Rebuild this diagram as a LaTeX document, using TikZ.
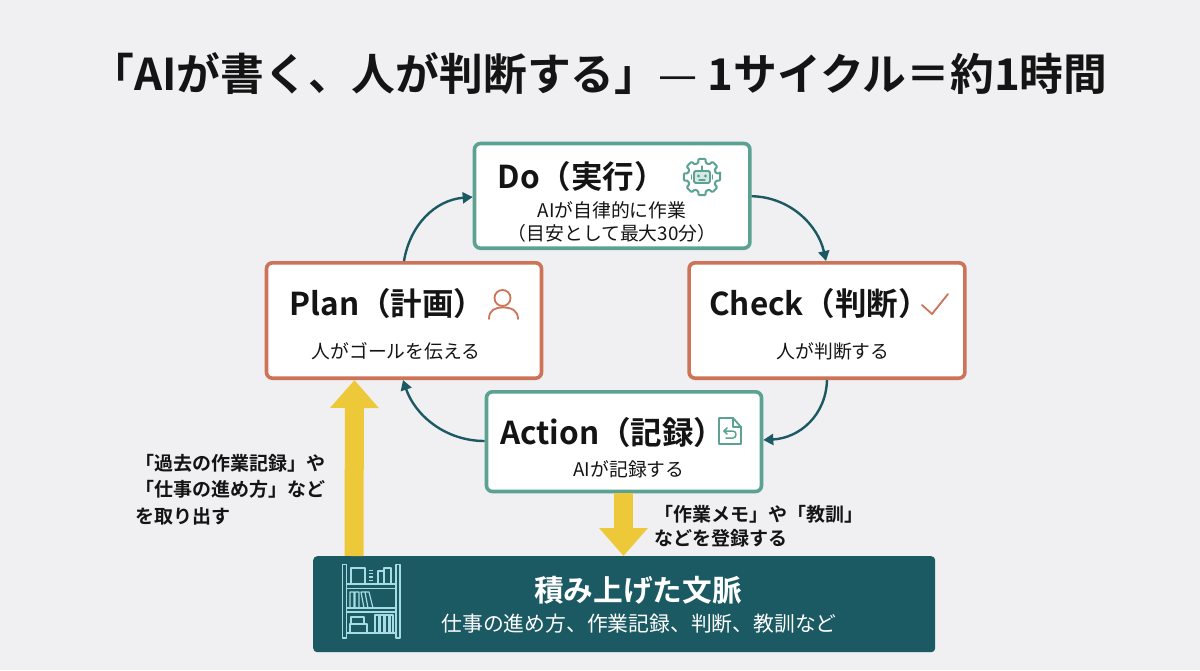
\documentclass[tikz,border=0pt]{standalone}
\usepackage{fontspec}
\setmainfont{Noto Sans CJK JP}[BoldFont={Noto Sans CJK JP Bold}]
\usetikzlibrary{arrows.meta,calc}
\definecolor{bgc}{HTML}{F0EFF2}
\definecolor{tealb}{HTML}{5BA293}
\definecolor{redb}{HTML}{CC7358}
\definecolor{darkt}{HTML}{1B5A63}
\definecolor{yel}{HTML}{EDC93A}
\definecolor{shelf}{HTML}{A8DCE4}
\definecolor{ink}{HTML}{141414}
\tikzset{
  x=1pt,y=-1pt,
  card/.style={draw,line width=3.6pt,fill=white,rounded corners=6pt,anchor=north west,inner sep=0pt},
  tealcard/.style={card,draw=tealb},
  redcard/.style={card,draw=redb},
  head/.style={font=\fontsize{31.5}{34}\selectfont\bfseries,text=ink,inner sep=0pt},
  sub/.style={font=\fontsize{18.8}{23}\selectfont,text=ink,inner sep=0pt,align=center},
  note/.style={font=\fontsize{19}{26.5}\selectfont\bfseries,text=ink,inner sep=0pt,align=left,anchor=north west},
  flow/.style={draw=darkt,line width=2.4pt,-{Triangle[length=10pt,width=11pt]}},
  bigarrow/.style={draw=yel,line width=19pt,-{Triangle[length=28pt,width=47pt]}},
  ticon/.style={draw=tealb,line width=1.8pt,line join=round,line cap=round},
  ricon/.style={draw=redb,line width=1.8pt,line join=round,line cap=round},
  sicon/.style={draw=shelf,line width=1.2pt,line join=round},
}
\begin{document}
\begin{tikzpicture}
\useasboundingbox (0,0) rectangle (1200,670);
\fill[bgc] (0,0) rectangle (1200,670);

\node[font=\fontsize{43.8}{46}\selectfont\bfseries,text=ink,inner sep=0pt] (title) at (599,73.5) {「AIが書く、人が判断する」{\mdseries —} 1サイクル＝約1時間};

% cards
\node[tealcard,minimum width=275.4pt,minimum height=104.7pt] (do) at (472.7,141.7) {};
\node[redcard,minimum width=275pt,minimum height=115.4pt] (plan) at (264.7,261) {};
\node[redcard,minimum width=275.8pt,minimum height=115.4pt] (check) at (687.3,261) {};
\node[tealcard,minimum width=275pt,minimum height=99.7pt] (action) at (484.7,390) {};
\node[draw=none,fill=darkt,rounded corners=4pt,anchor=north west,minimum width=622pt,minimum height=96pt,inner sep=0pt] (store) at (313,556) {};

% card text
\node[head,anchor=west] (dot) at (497.5,177) {Do（実行）};
\node[sub] (dos) at (612,222) {AIが自律的に作業\\（目安として最大30分）};
\node[head,anchor=west] (plant) at (289.5,303.7) {Plan（計画）};
\node[sub] (plans) at (396,351) {人がゴールを伝える};
\node[head,anchor=west] (checkt) at (709,303.7) {Check（判断）};
\node[sub] (checks) at (833,351) {人が判断する};
\node[head,anchor=west] (actiont) at (500,432.7) {Action（記録）};
\node[sub] (actions) at (629,469) {AIが記録する};
\node[font=\fontsize{29.7}{33}\selectfont\bfseries,text=white,inner sep=0pt] (storet) at (638,590) {積み上げた文脈};
\node[font=\fontsize{20.8}{25}\selectfont,text=white,inner sep=0pt] (stores) at (639,624) {仕事の進め方、作業記録、判断、教訓など};

% notes
\node[note] (n1) at (135,454) {「過去の作業記録」や\\「仕事の進め方」など\\を取り出す};
\node[note,font=\fontsize{19}{24}\selectfont\bfseries] (n2) at (654,505.5) {「作業メモ」や「教訓」\\などを登録する};

% cycle connectors
\path (plan.north west) ++(139.3,0) coordinate (pt);
\path (do.north west) ++(0,55.3) coordinate (dl);
\path (do.north east) ++(0,54.5) coordinate (dr);
\path (check.north west) ++(138.7,0) coordinate (ct);
\path (check.south west) ++(139.7,0) coordinate (cb);
\path (action.north east) ++(0,50) coordinate (ar);
\path (action.north west) ++(0,51) coordinate (al);
\path (plan.south west) ++(138.3,0) coordinate (pb);
\draw[flow] (pt) .. controls (410,225) and (435,200) .. (dl);
\draw[flow] (dr) .. controls (790,197) and (818,225) .. (ct);
\draw[flow] (cb) .. controls (826,415) and (800,438) .. (ar);
\draw[flow] (al) .. controls (445,441) and (415,415) .. (pb);

% yellow arrows
\path (store.north west) ++(41,0) coordinate (ua);
\path (plan.south west) ++(89.8,0) coordinate (ub);
\draw[bigarrow] (ua) -- (ub);
\path (action.south west) ++(138.8,0) coordinate (da);
\path (store.north west) ++(310.5,0) coordinate (db);
\draw[bigarrow] (da) -- (db);

% Do icon: gear with robot
\begin{scope}[shift={(702,177)}]
  \draw[ticon,rounded corners=1pt,line width=2pt] (-11:18.5)
    \foreach \a in {0,45,...,315} {
      -- (\a-11:18.5) -- (\a+11:18.5) -- (\a+15:14.5) -- (\a+30:14.5)
    } -- cycle;
  \draw[ticon,fill=tealb!25,rounded corners=1.5pt] (-8,-6) rectangle (8,6);
  \draw[ticon,line width=1.3pt] (0,-6) -- (0,-11);
  \draw[ticon,line width=1.3pt] (-10.5,-2) -- (-10.5,2) (10.5,-2) -- (10.5,2);
  \fill[tealb] (-3.5,-1) circle (1.6) (3.5,-1) circle (1.6);
  \draw[ticon,line width=1.3pt] (-3,3) -- (3,3);
\end{scope}

% Plan icon: person
\draw[ricon] (502.5,298) circle (8);
\draw[ricon] (489,319) .. controls (489,310) and (495,307.5) .. (503,307.5) .. controls (511,307.5) and (518,310) .. (518,319);

% Check icon
\draw[ricon] (922,305) -- (932,314) -- (948,294);

% Action icon: document
\draw[ticon] (719,418) -- (733,418) -- (741,427) -- (741,444) -- (719,444) -- cycle;
\draw[ticon] (733,418) -- (733,427) -- (741,427);
\draw[ticon,line width=1.5pt] (724,431) -- (733,431) .. controls (737,431) and (737,438) .. (733,438) -- (726,438);
\draw[ticon,line width=1.5pt] (727,428) -- (724,431) -- (727,434);

% Bookshelf
\begin{scope}[sicon]
  \draw (342.5,564.5) rectangle (346.5,638);
  \draw (396,564.5) rectangle (400,638);
  \draw (346.5,584) -- (396,584) (346.5,588.5) -- (396,588.5);
  \draw (346.5,608) -- (396,608) (346.5,612) -- (396,612);
  \draw (346.5,633) -- (396,633);
  \draw (351,568) rectangle (365,584);
  \draw (378,571) rectangle (384,584) (384,568) rectangle (391,584);
  \draw[dotted] (370,570) -- (370,584) (372,570) -- (372,584);
  \draw (350,592) rectangle (354,608) (355,592) rectangle (359,608) (361,592) -- (365,592) -- (368,608) -- (364,608) -- cycle;
  \draw (365,592) -- (369,592) -- (373,608) -- (369,608);
  \draw (350,624) rectangle (367,633) (351,617) rectangle (364,624);
  \draw (375,615) rectangle (379,633) (380,615) rectangle (384,633) (385,615) rectangle (389,633) (390,615) rectangle (393,633);
\end{scope}
\end{tikzpicture}
\end{document}
